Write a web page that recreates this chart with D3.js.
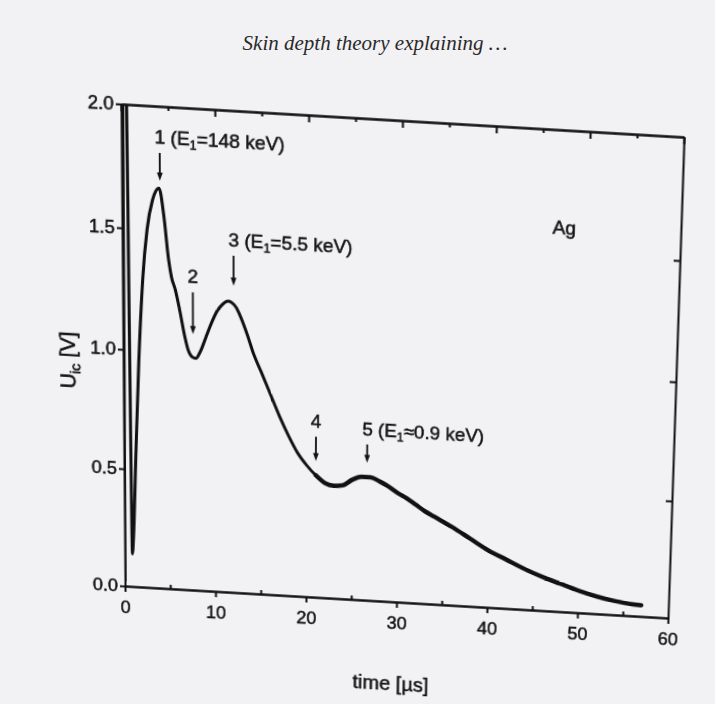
<!DOCTYPE html>
<html>
<head>
<meta charset="utf-8">
<script src="https://cdn.jsdelivr.net/npm/d3@7"></script>
<style>
body { margin: 0; background: #f2f1f4; overflow: hidden; }
#page { position: relative; width: 715px; height: 704px; }
#header, #chart { position: absolute; left: 0; top: 0; }
#chart { transform-origin: 0 0; }
text { font-family: "Liberation Sans", Arial, sans-serif; fill: #141414; }
.tick text { font-size: 18px; stroke: #141414; stroke-width: 0.5px; }
.ann { font-size: 18.5px; stroke: #141414; stroke-width: 0.5px; }
.title { font-size: 20px; stroke: #141414; stroke-width: 0.5px; }
</style>
</head>
<body>
<div id="page">
  <svg id="header" width="715" height="704"></svg>
  <svg id="chart"></svg>
</div>
<script>
// measured trace, time in microseconds, signal in volts
var timeUs = [0, 0.1, 0.2, 0.35, 0.55, 0.7, 0.85, 1.0, 1.3, 1.7, 2.2, 2.7, 3.3, 4.0, 4.5, 5.0, 5.3, 5.7,
  6.2, 6.7, 7.1, 7.5, 7.9, 8.4, 9.0, 9.6, 10.2, 10.8, 11.4, 11.8, 12.3, 12.8, 13.5, 14.2, 15.0,
  16.0, 17.0, 18.0, 19.0, 20.0, 21.0, 22.0, 23.0, 24.0, 25.0, 26.0, 27.0, 28.0, 29.0, 30.0,
  31.0, 32.0, 33.0, 34.0, 36.0, 38.0, 40.0, 42.0, 44.0, 46.0, 48.0, 50.0, 52.0, 54.0, 56.0, 57.0];
var signalV = [0.02, 0.9, 2.2, 2.3, 2.3, 1.1, 0.14, 0.22, 0.55, 0.95, 1.3, 1.5, 1.62, 1.67, 1.56, 1.38, 1.31, 1.26,
  1.17, 1.07, 1.01, 0.985, 0.98, 1.01, 1.07, 1.13, 1.18, 1.21, 1.225, 1.22, 1.2, 1.16, 1.09, 1.01, 0.94,
  0.85, 0.76, 0.68, 0.61, 0.56, 0.52, 0.49, 0.48, 0.485, 0.51, 0.525, 0.525, 0.51, 0.49, 0.465,
  0.445, 0.42, 0.395, 0.375, 0.335, 0.29, 0.245, 0.21, 0.175, 0.145, 0.12, 0.095, 0.075, 0.06, 0.05, 0.048];

var xTickValues = [0, 10, 20, 30, 40, 50, 60];
var xMinorTicks = [5, 15, 25, 35, 45, 55];
var yTickValues = [0, 0.5, 1.0, 1.5, 2.0];

// peak markers
var peakNumbers = ["1", "2", "3", "4", "5"];
var peakEnergies = ["=148 keV", "", "=5.5 keV", "", "\u22480.9 keV"];
var peakTimes = [4.1, 7.6, 12.0, 21.0, 26.6];
var arrowTipV = [1.70, 1.08, 1.29, 0.58, 0.585];
var labelV = [1.85, 1.29, 1.45, 0.72, 0.70];

var sampleName = "Ag";

// where the plot frame sits on the scanned page (TL, TR, BR, BL)
var frameCorners = [[121, 104], [684, 137], [668, 618], [125, 586]];

var margin = {top: 60, right: 60, bottom: 110, left: 110},
    width = 540,
    height = 480;

var svg = d3.select("#chart")
    .attr("width", width + margin.left + margin.right)
    .attr("height", height + margin.top + margin.bottom);

d3.select("#header").append("text")
    .attr("x", 375).attr("y", 50)
    .attr("text-anchor", "middle")
    .style("font-family", "'Liberation Serif', serif")
    .style("font-style", "italic")
    .style("font-size", "21px")
    .style("fill", "#2a2a2a")
    .text("Skin depth theory explaining \u2026");

var x = d3.scaleLinear().domain([0, 60]).range([0, width]),
    y = d3.scaleLinear().domain([0, 2]).range([height, 0]);

var g = svg.append("g")
    .attr("transform", "translate(" + margin.left + "," + margin.top + ")");

g.append("clipPath").attr("id", "clip")
  .append("rect").attr("width", width).attr("height", height);

var line = d3.line()
    .x(function(d) { return x(d[0]); })
    .y(function(d) { return y(d[1]); })
    .curve(d3.curveMonotoneX);

var trace = d3.zip(timeUs, signalV);

g.append("path")
    .datum(trace)
    .attr("clip-path", "url(#clip)")
    .attr("fill", "none")
    .attr("stroke", "#111")
    .attr("stroke-width", 3)
    .attr("stroke-linejoin", "round")
    .attr("d", line);

// the late part of the trace is noisy, so it prints as a thicker band
g.append("path")
    .datum(trace.filter(function(d) { return d[0] >= 21; }))
    .attr("fill", "none")
    .attr("stroke", "#111")
    .attr("stroke-width", 4.5)
    .attr("stroke-linejoin", "round")
    .attr("stroke-linecap", "round")
    .attr("d", line);

// axes
g.append("g").attr("class", "axis")
    .attr("transform", "translate(0," + height + ")")
    .call(d3.axisBottom(x).tickValues(xTickValues).tickSize(6).tickSizeOuter(0).tickPadding(9));
g.append("g").attr("class", "axis minor")
    .attr("transform", "translate(0," + height + ")")
    .call(d3.axisBottom(x).tickValues(xMinorTicks).tickSize(-4).tickSizeOuter(0).tickFormat(""));
g.append("g").attr("class", "axis")
    .call(d3.axisTop(x).tickValues(xTickValues).tickSize(-7).tickSizeOuter(0).tickFormat(""));
g.append("g").attr("class", "axis minor")
    .call(d3.axisTop(x).tickValues(xMinorTicks).tickSize(-4).tickSizeOuter(0).tickFormat(""));
g.append("g").attr("class", "axis")
    .call(d3.axisLeft(y).tickValues(yTickValues).tickSize(5).tickSizeOuter(0).tickPadding(2)
      .tickFormat(d3.format(".1f")));
g.append("g").attr("class", "axis")
    .attr("transform", "translate(" + width + ",0)")
    .call(d3.axisRight(y).tickValues([0.5, 1.0, 1.5]).tickSize(-6).tickSizeOuter(0).tickFormat(""));

g.selectAll(".axis path, .axis line").attr("stroke", "#111").attr("stroke-width", 2);

// axis titles
g.append("text")
    .attr("class", "title")
    .attr("x", width / 2 - 5).attr("y", height + 92)
    .attr("text-anchor", "middle")
    .text("time [\u00b5s]");

var yt = g.append("text")
    .attr("class", "title")
    .style("font-size", "21px")
    .attr("transform", "translate(" + (-47) + "," + (height / 2 + 14) + ") rotate(-90)")
    .attr("text-anchor", "middle");
yt.append("tspan").text("U");
yt.append("tspan").attr("dy", 5).style("font-size", "14px").text("ic");
yt.append("tspan").attr("dy", -5).text(" [V]");

// peak arrows and labels
peakNumbers.forEach(function(n, i) {
  var px = x(peakTimes[i]),
      base = y(labelV[i]),
      tip = y(arrowTipV[i]);
  g.append("line")
      .attr("x1", px).attr("x2", px)
      .attr("y1", base + 9).attr("y2", tip - 5)
      .attr("stroke", "#111").attr("stroke-width", 1.8);
  g.append("path")
      .attr("d", "M" + (px - 2.8) + "," + (tip - 8) + "L" + (px + 2.8) + "," + (tip - 8) + "L" + px + "," + tip + "Z")
      .attr("fill", "#111");
  var t = g.append("text").attr("class", "ann")
      .attr("y", base);
  if (peakEnergies[i]) {
    t.attr("x", px - 5);
    t.append("tspan").text(n + " (E");
    t.append("tspan").attr("dy", 4).style("font-size", "12px").text("1");
    t.append("tspan").attr("dy", -4).text(peakEnergies[i] + ")");
  } else {
    t.attr("x", px).attr("text-anchor", "middle").text(n);
  }
});

g.append("text").attr("class", "ann")
    .attr("x", x(47.5)).attr("y", y(1.58))
    .attr("text-anchor", "middle")
    .text(sampleName);

// the scan is skewed: map the flat plot rectangle onto the frame corners
function solve(A, b) {
  var n = b.length;
  for (var i = 0; i < n; i++) {
    var p = i;
    for (var k = i + 1; k < n; k++) if (Math.abs(A[k][i]) > Math.abs(A[p][i])) p = k;
    var tmp = A[i]; A[i] = A[p]; A[p] = tmp;
    var tb = b[i]; b[i] = b[p]; b[p] = tb;
    for (var k = i + 1; k < n; k++) {
      var f = A[k][i] / A[i][i];
      for (var j = i; j < n; j++) A[k][j] -= f * A[i][j];
      b[k] -= f * b[i];
    }
  }
  var h = new Array(n);
  for (var i = n - 1; i >= 0; i--) {
    var s = b[i];
    for (var j = i + 1; j < n; j++) s -= A[i][j] * h[j];
    h[i] = s / A[i][i];
  }
  return h;
}

function homography(src, dst) {
  var A = [], b = [];
  for (var i = 0; i < 4; i++) {
    var sx = src[i][0], sy = src[i][1], X = dst[i][0], Y = dst[i][1];
    A.push([sx, sy, 1, 0, 0, 0, -sx * X, -sy * X]); b.push(X);
    A.push([0, 0, 0, sx, sy, 1, -sx * Y, -sy * Y]); b.push(Y);
  }
  var h = solve(A, b);
  return [h[0], h[3], 0, h[6], h[1], h[4], 0, h[7], 0, 0, 1, 0, h[2], h[5], 0, 1];
}

var l = margin.left, tp = margin.top;
var flat = [[l, tp], [l + width, tp], [l + width, tp + height], [l, tp + height]];
d3.select("#chart").style("transform", "matrix3d(" + homography(flat, frameCorners).join(",") + ")");
</script>
</body>
</html>
